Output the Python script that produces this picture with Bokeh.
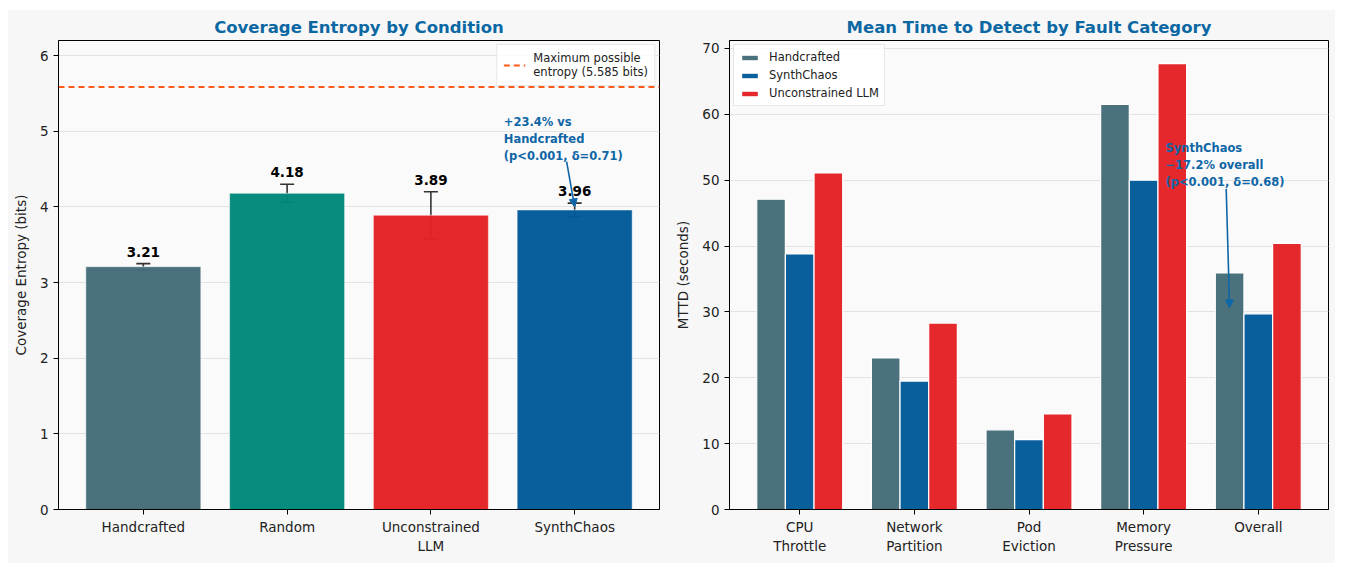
import numpy as np
from bokeh.plotting import figure
from bokeh.layouts import row
from bokeh.models import (ColumnDataSource, Whisker, TeeHead, Legend, LegendItem,
                          Label, Arrow, NormalHead, FixedTicker, Range1d)
from bokeh.embed import file_html
from bokeh.resources import INLINE
from bokeh.core.properties import value

# ---- data -------------------------------------------------------------
conditions = ["Handcrafted", "Random", "Unconstrained\nLLM", "SynthChaos"]
entropy_mean = [3.21, 4.18, 3.89, 3.96]
entropy_std = [0.04, 0.12, 0.31, 0.09]
max_entropy = 5.585

fault_categories = ["CPU\nThrottle", "Network\nPartition", "Pod\nEviction",
                    "Memory\nPressure", "Overall"]
mttd_handcrafted = [47.1, 23.0, 12.1, 61.5, 35.9]
mttd_synthchaos = [38.8, 19.5, 10.6, 50.0, 29.7]
mttd_unconstrained = [51.1, 28.3, 14.5, 67.7, 40.4]

# ---- style ------------------------------------------------------------
FONT = "DejaVu Sans"
C_HAND = "#456d78"
C_RANDOM = "#00887a"
C_LLM = "#e42124"
C_SYNTH = "#015a99"
C_TITLE = "#0b68a3"
C_NOTE = "#0f66a6"
C_MAX = "#ff5a1a"
OUTER_BG = "#f7f7f7"
PLOT_BG = "#fafafa"


def style(p, xticks, xlabels, ylabel):
    p.background_fill_color = PLOT_BG
    p.border_fill_color = OUTER_BG
    p.outline_line_color = "black"
    p.outline_line_width = 1
    p.title.text_font = FONT
    p.title.text_font_size = "16.5px"
    p.title.text_font_style = "bold"
    p.title.text_color = C_TITLE
    p.title.align = "center"
    p.title.standoff = 8
    p.xgrid.grid_line_color = None
    p.ygrid.grid_line_color = "#e3e3e3"
    p.ygrid.grid_line_width = 1
    for ax in (p.xaxis[0], p.yaxis[0]):
        ax.major_label_text_font = FONT
        ax.major_label_text_font_size = "13.5px"
        ax.major_label_text_color = "#222222"
        ax.axis_line_color = "black"
        ax.major_tick_line_color = "black"
        ax.major_tick_out = 5
        ax.major_tick_in = 0
        ax.minor_tick_line_color = None
    p.xaxis.ticker = FixedTicker(ticks=list(xticks))
    p.xaxis.major_label_overrides = {float(t): lab for t, lab in zip(xticks, xlabels)}
    p.xaxis.major_label_standoff = 4
    p.yaxis.axis_label = ylabel
    p.yaxis.axis_label_text_font = FONT
    p.yaxis.axis_label_text_font_size = "13.5px"
    p.yaxis.axis_label_text_font_style = "normal"
    p.yaxis.axis_label_text_color = "#222222"
    p.yaxis.axis_label_standoff = 8


# ---- left: coverage entropy ------------------------------------------
x1 = np.arange(len(conditions))
x1_range = Range1d(-0.59, 3.59)
p1 = figure(width=664, height=553, x_range=x1_range, y_range=Range1d(0, 6.2),
            title="Coverage Entropy by Condition", output_backend="svg",
            toolbar_location=None, min_border_left=50, min_border_right=13,
            min_border_top=30, min_border_bottom=54)
style(p1, x1, conditions, "Coverage Entropy (bits)")
p1.yaxis.ticker = FixedTicker(ticks=[0, 1, 2, 3, 4, 5, 6])

src1 = ColumnDataSource(dict(
    x=x1, top=entropy_mean,
    upper=np.array(entropy_mean) + np.array(entropy_std),
    lower=np.array(entropy_mean) - np.array(entropy_std),
    label_y=np.array(entropy_mean) + np.array(entropy_std) + 0.09,
    label=[f"{v:.2f}" for v in entropy_mean],
    color=[C_HAND, C_RANDOM, C_LLM, C_SYNTH],
))
p1.vbar(x="x", top="top", width=0.8, source=src1, fill_color="color",
        fill_alpha=0.97, line_color="white", line_alpha=0.5, line_width=1)
p1.add_layout(Whisker(source=src1, base="x", upper="upper", lower="lower",
                      line_color="#333333", line_width=1.6,
                      upper_head=TeeHead(size=14, line_color="#333333", line_width=1.6),
                      lower_head=TeeHead(size=14, line_color="#333333", line_width=1.6)))
p1.text(x="x", y="label_y", text="label", source=src1, text_align="center",
        text_baseline="bottom", text_font=value(FONT), text_font_size="13.5px",
        text_font_style="bold", text_color="black")

max_line = p1.line(x=[x1_range.start, x1_range.end], y=[max_entropy, max_entropy],
                   line_color=C_MAX, line_width=2, line_dash="6 4")
leg1 = Legend(items=[LegendItem(label="Maximum possible\nentropy (5.585 bits)",
                                renderers=[max_line])],
              location="top_right", label_text_font=FONT,
              label_text_font_size="11.5px", label_text_color="#222222",
              border_line_color="#d0d0d0", background_fill_color="white",
              background_fill_alpha=0.85, margin=4, padding=6, spacing=2,
              glyph_width=22, label_standoff=8)
p1.add_layout(leg1)

p1.add_layout(Label(x=2.507, y=5.21, text="+23.4% vs\nHandcrafted\n(p<0.001, δ=0.71)",
                    text_font=FONT, text_font_size="11.5px", text_font_style="bold",
                    text_color=C_NOTE, text_align="left", text_baseline="top",
                    text_line_height=1.2))
p1.add_layout(Arrow(x_start=2.944, y_start=4.6, x_end=3.0, y_end=4.0,
                    line_color=C_NOTE, line_width=1.6,
                    end=NormalHead(size=8, fill_color=C_NOTE, line_color=C_NOTE)))

# ---- right: mean time to detect --------------------------------------
x2 = np.arange(len(fault_categories))
bw = 0.25
p2 = figure(width=663, height=553, x_range=Range1d(-0.6125, 4.6125),
            y_range=Range1d(0, 71.2), title="Mean Time to Detect by Fault Category",
            output_backend="svg", toolbar_location=None, min_border_left=52,
            min_border_right=7, min_border_top=30, min_border_bottom=54)
style(p2, x2, fault_categories, "MTTD (seconds)")
p2.yaxis.ticker = FixedTicker(ticks=[0, 10, 20, 30, 40, 50, 60, 70])

series = [("Handcrafted", mttd_handcrafted, C_HAND, -bw),
          ("SynthChaos", mttd_synthchaos, C_SYNTH, 0.0),
          ("Unconstrained LLM", mttd_unconstrained, C_LLM, bw)]
items = []
for name, vals, col, off in series:
    r = p2.vbar(x=x2 + off, top=vals, width=bw, fill_color=col, fill_alpha=0.97,
                line_color="white", line_width=1.2)
    items.append(LegendItem(label=name, renderers=[r]))
leg2 = Legend(items=items, location="top_left", label_text_font=FONT,
              label_text_font_size="11.5px", label_text_color="#222222",
              border_line_color="#d0d0d0", background_fill_color="white",
              background_fill_alpha=0.85, margin=4, padding=5, spacing=4,
              glyph_width=21, glyph_height=7, label_height=13, label_standoff=9)
p2.add_layout(leg2)

p2.add_layout(Label(x=3.19, y=55.9, text="SynthChaos\n\u221217.2% overall\n(p<0.001, δ=0.68)",
                    text_font=FONT, text_font_size="11.5px", text_font_style="bold",
                    text_color=C_NOTE, text_align="left", text_baseline="top",
                    text_line_height=1.2))
p2.add_layout(Arrow(x_start=3.72, y_start=48.7, x_end=3.75, y_end=30.6,
                    line_color=C_NOTE, line_width=1.6,
                    end=NormalHead(size=8, fill_color=C_NOTE, line_color=C_NOTE)))

layout = row(p1, p2, spacing=0, margin=(10, 10, 10, 8),
             styles={"background-color": OUTER_BG})
open("out.html", "w").write(file_html(layout, INLINE))
